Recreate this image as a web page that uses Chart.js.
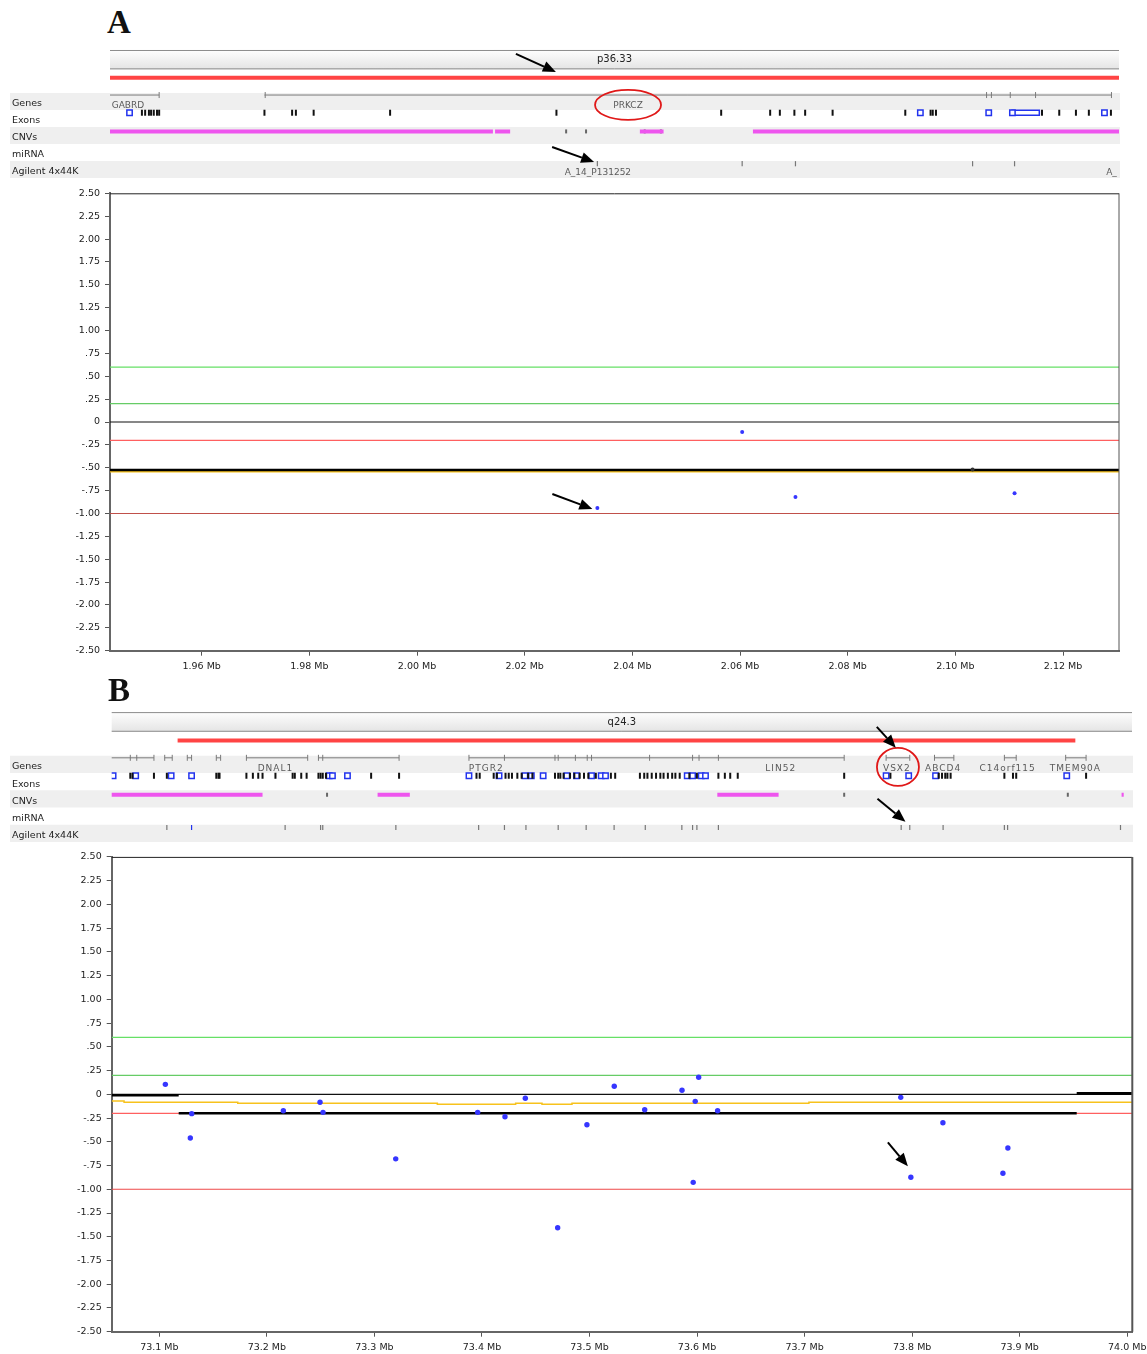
<!DOCTYPE html>
<html>
<head>
<meta charset="utf-8">
<script src="https://cdn.jsdelivr.net/npm/chart.js@4.4.1/dist/chart.umd.min.js"></script>
<style>
  body { margin: 0; background: #fff; }
  #page { position: relative; width: 1147px; height: 1354px; overflow: hidden; }
  canvas { position: absolute; left: 0; }
  .panel { position: absolute; font: bold 33px "Liberation Serif", serif; color: #111; line-height: normal; }
</style>
</head>
<body>
<div id="page">
  <div class="panel" style="left:107px;top:4px">A</div>
  <canvas id="trackA" width="1147" height="136" style="top:42px"></canvas>
  <canvas id="chartA" width="1147" height="490" style="top:185px"></canvas>
  <div class="panel" style="left:108px;top:672px">B</div>
  <canvas id="trackB" width="1147" height="138" style="top:704px"></canvas>
  <canvas id="chartB" width="1147" height="506" style="top:848px"></canvas>
</div>
<script>
const FONT = '"DejaVu Sans", Verdana, sans-serif';
const rowNames = ['Genes', 'Exons', 'CNVs', 'miRNA', 'Agilent 4x44K'];
const yTicks = [2.5, 2.25, 2, 1.75, 1.5, 1.25, 1, 0.75, 0.5, 0.25, 0, -0.25, -0.5, -0.75, -1, -1.25, -1.5, -1.75, -2, -2.25, -2.5];
const thresholds = [0.6, 0.2, 0, -0.2, -1.0];

// ---------- panel A (1p36.33, PRKCZ) ----------
const xRangeA = [1.94297, 2.1304];
const xTicksA = [1.96, 1.98, 2.00, 2.02, 2.04, 2.06, 2.08, 2.10, 2.12];
const bandA = 'p36.33';
const aberrA = [1.94297, 2.1304];
const geneStartA = [1.94297, 1.97166];
const geneEndA = [1.9521, 2.1290];
const geneCapsA = [1.9521, 1.9718, 2.1058, 2.1067, 2.1102, 2.1149, 2.1290];
const geneNamesA = ['GABRD', 'PRKCZ'];
const geneNamePosA = [1.9463, 2.0392];
const exonTicksA = [1.9489, 1.9495, 1.9502, 1.9506, 1.9511, 1.9517, 1.9521, 1.97166, 1.9768, 1.9775, 1.9808, 1.9950,
  2.0259, 2.0565, 2.0656, 2.0674, 2.0701, 2.0721, 2.0772, 2.0907, 2.0954, 2.0958, 2.0964, 2.1161, 2.1193, 2.1224, 2.1248, 2.1289];
const exonBoxesA = [1.9466, 2.0935, 2.1062, 2.1106, 2.1277];
const wideExonStartA = [2.1104];
const wideExonEndA = [2.1156];
const cnvStartA = [1.94297, 2.0145, 2.0414, 2.0624];
const cnvEndA = [2.0141, 2.0173, 2.0458, 2.1304];
const cnvMarksA = [2.0277, 2.0314, 2.0423, 2.0453];
const probesA = [2.0335, 2.0604, 2.0703, 2.1032, 2.1110];
const probeLabelsA = ['A_14_P131252', 'A_'];
const probeLabelPosA = [2.0336, 2.1290];
const ratiosA = [-0.94, -0.11, -0.82, -0.52, -0.78];
const ratioColorsA = ['#3636ff', '#3636ff', '#3636ff', '#333333', '#3636ff'];
const segStartA = [1.94297];
const segEndA = [2.1304];
const segValA = [-0.525];
const yelStartA = [1.94297];
const yelValA = [-0.545];

// ---------- panel B (14q24.3, VSX2) ----------
const xRangeB = [73.0557, 74.0047];
const xTicksB = [73.1, 73.2, 73.3, 73.4, 73.5, 73.6, 73.7, 73.8, 73.9, 74.0];
const bandB = 'q24.3';
const aberrB = [73.117, 73.952];
const geneStartB = [73.055, 73.105, 73.126, 73.153, 73.181, 73.248, 73.388, 73.776, 73.821, 73.886, 73.943];
const geneEndB = [73.095, 73.112, 73.130, 73.157, 73.238, 73.323, 73.737, 73.798, 73.839, 73.897, 73.962];
const geneCapsB = [73.073, 73.079, 73.095, 73.105, 73.112, 73.126, 73.130, 73.153, 73.157, 73.181, 73.238,
  73.248, 73.252, 73.323, 73.388, 73.421, 73.468, 73.471, 73.487, 73.498, 73.502, 73.556, 73.596, 73.602, 73.620, 73.737,
  73.776, 73.798, 73.821, 73.839, 73.886, 73.897, 73.943, 73.962];
const geneNamesB = ['DNAL1', 'PTGR2', 'LIN52', 'VSX2', 'ABCD4', 'C14orf115', 'TMEM90A'];
const geneNamePosB = [73.208, 73.404, 73.678, 73.786, 73.829, 73.889, 73.952];
const exonTicksB = [73.073, 73.075, 73.095, 73.107, 73.153, 73.155, 73.156, 73.181, 73.187, 73.192, 73.196, 73.208,
  73.224, 73.226, 73.232, 73.237, 73.248, 73.250, 73.252, 73.255, 73.297, 73.323, 73.395, 73.398, 73.411, 73.414,
  73.422, 73.425, 73.428, 73.433, 73.437, 73.443, 73.447, 73.468, 73.471, 73.473, 73.476, 73.482, 73.486, 73.491,
  73.495, 73.499, 73.506, 73.520, 73.524, 73.547, 73.551, 73.554, 73.558, 73.562, 73.566, 73.569, 73.573, 73.577,
  73.580, 73.584, 73.593, 73.600, 73.620, 73.626, 73.631, 73.638, 73.737, 73.780, 73.825, 73.828, 73.831, 73.833,
  73.836, 73.886, 73.894, 73.897, 73.962];
const exonBoxesB = [73.057, 73.078, 73.111, 73.130, 73.258, 73.261, 73.275, 73.388, 73.416, 73.440, 73.446, 73.457,
  73.479, 73.488, 73.502, 73.511, 73.515, 73.591, 73.596, 73.604, 73.608, 73.776, 73.797, 73.822, 73.944];
const wideExonStartB = [];
const wideExonEndB = [];
const cnvStartB = [73.055, 73.303, 73.619, 73.995];
const cnvEndB = [73.196, 73.333, 73.676, 73.997];
const cnvMarksB = [73.256, 73.737, 73.945];
const probesB = [73.107, 73.130, 73.217, 73.250, 73.252, 73.320, 73.397, 73.421, 73.441, 73.471, 73.497, 73.523,
  73.552, 73.586, 73.596, 73.600, 73.620, 73.790, 73.798, 73.829, 73.886, 73.889, 73.994];
const probeColorsB = probesB.map((p, i) => i === 1 ? '#2233ee' : '#777');
const probeLabelsB = [];
const probeLabelPosB = [];
const posB = [73.1056, 73.1301, 73.1288, 73.2153, 73.2494, 73.2522, 73.3198, 73.3960, 73.4214, 73.4403, 73.4704, 73.4976,
  73.5230, 73.5513, 73.5860, 73.6015, 73.5983, 73.5964, 73.6191, 73.7894, 73.7988, 73.8286, 73.8890, 73.8844];
const ratiosB = [0.105, -0.204, -0.46, -0.173, -0.084, -0.19, -0.68, -0.19, -0.236, -0.042, -1.405, -0.32,
  0.084, -0.162, 0.042, 0.179, -0.074, -0.927, -0.173, -0.032, -0.874, -0.299, -0.566, -0.832];
const segStartB = [73.0557, 73.118, 73.953];
const segEndB = [73.118, 73.953, 74.0047];
const segValB = [-0.01, -0.2, 0.01];
const yelStartB = [73.0557, 73.0672, 73.1729, 73.3585, 73.4313, 73.4558, 73.4837, 73.704];
const yelValB = [-0.07, -0.085, -0.095, -0.105, -0.095, -0.105, -0.095, -0.085];

// helpers
function segs(starts, ends, ys) {
  const out = [];
  starts.forEach((s, i) => {
    const y = Array.isArray(ys) ? ys[i] : ys;
    out.push({x: s, y: y}, {x: ends[i], y: y}, {x: ends[i], y: null});
  });
  return out;
}
function steps(starts, end, vals) {
  return starts.flatMap((s, i) => [{x: s, y: vals[i]}, {x: i + 1 < starts.length ? starts[i + 1] : end, y: vals[i]}]);
}
function at(xs, y) {
  return xs.map(x => ({x: x, y: y}));
}
function boxes(starts, ends, yc, h) {
  const out = [];
  starts.forEach((s, i) => {
    out.push({x: s, y: yc - h}, {x: ends[i], y: yc - h}, {x: ends[i], y: yc + h}, {x: s, y: yc + h}, {x: s, y: yc - h}, {x: s, y: null});
  });
  return out;
}
function fmtY(v) {
  if (v === 0) return '0';
  if (Math.abs(v) < 1) return (v < 0 ? '-' : '') + Math.abs(v).toFixed(2).slice(1);
  return v.toFixed(2);
}
function arrow(ctx, x1, y1, x2, y2) {
  const a = Math.atan2(y2 - y1, x2 - x1);
  const hl = 13, hw = 5.5;
  const bx = x2 - Math.cos(a) * hl, by = y2 - Math.sin(a) * hl;
  ctx.save();
  ctx.strokeStyle = '#000';
  ctx.fillStyle = '#000';
  ctx.lineWidth = 2;
  ctx.beginPath();
  ctx.moveTo(x1, y1);
  ctx.lineTo(bx, by);
  ctx.stroke();
  ctx.beginPath();
  ctx.moveTo(x2, y2);
  ctx.lineTo(bx + Math.sin(a) * hw, by - Math.cos(a) * hw);
  ctx.lineTo(bx - Math.sin(a) * hw, by + Math.cos(a) * hw);
  ctx.closePath();
  ctx.fill();
  ctx.restore();
}

function trackChart(id, d) {
  const deco = {
    id: 'deco',
    beforeDraw(chart) {
      const c = chart.ctx, xs = chart.scales.x, ys = chart.scales.y, area = chart.chartArea;
      c.save();
      [0, 2, 4].forEach(r => {
        const t = ys.getPixelForValue(r - 0.5), b = ys.getPixelForValue(r + 0.5);
        c.fillStyle = '#efefef';
        c.fillRect(10, t, area.right + 1 - 10, b - t);
      });
      const l = xs.getPixelForValue(xs.min), r = xs.getPixelForValue(xs.max);
      const t = ys.getPixelForValue(-3.03), b = ys.getPixelForValue(-1.89);
      const g = c.createLinearGradient(0, t, 0, b);
      g.addColorStop(0, '#fefefe');
      g.addColorStop(1, '#e4e4e4');
      c.fillStyle = g;
      c.fillRect(l, t, r - l, b - t);
      c.strokeStyle = '#8c8c8c';
      c.lineWidth = 1;
      c.beginPath();
      c.moveTo(l, t + 0.5); c.lineTo(r, t + 0.5);
      c.moveTo(l, b - 0.5); c.lineTo(r, b - 0.5);
      c.stroke();
      c.fillStyle = '#222';
      c.font = '10px ' + FONT;
      c.textAlign = 'center';
      c.textBaseline = 'middle';
      c.fillText(d.band, (l + r) / 2, (t + b) / 2);
      c.restore();
    },
    afterDatasetsDraw(chart) {
      const c = chart.ctx, xs = chart.scales.x, ys = chart.scales.y, area = chart.chartArea;
      c.save();
      c.beginPath();
      c.rect(area.left - 2, 0, area.right - area.left + 2, chart.height);
      c.clip();
      c.font = '9px ' + FONT;
      c.fillStyle = '#5a5a5a';
      c.textBaseline = 'middle';
      c.textAlign = 'center';
      c.letterSpacing = d.spacing;
      d.geneNames.forEach((n, i) => {
        c.fillText(n, xs.getPixelForValue(d.geneNamePos[i]), ys.getPixelForValue(0.24));
      });
      c.letterSpacing = '0px';
      d.probeLabels.forEach((n, i) => {
        c.fillText(n, xs.getPixelForValue(d.probeLabelPos[i]), ys.getPixelForValue(4.18));
      });
      c.restore();
      c.save();
      c.strokeStyle = '#e01818';
      c.lineWidth = 1.8;
      c.beginPath();
      c.ellipse(xs.getPixelForValue(d.ring.x), ys.getPixelForValue(d.ring.y), d.ring.rx, d.ring.ry, 0, 0, Math.PI * 2);
      c.stroke();
      c.restore();
      d.arrows.forEach(a => {
        const x2 = xs.getPixelForValue(a.x), y2 = ys.getPixelForValue(a.y);
        arrow(c, x2 + a.dx, y2 + a.dy, x2, y2);
      });
    }
  };
  return new Chart(document.getElementById(id), {
    type: 'scatter',
    data: {
      datasets: [
        { data: segs([d.aberr[0]], [d.aberr[1]], -1.39), showLine: true, borderColor: '#ff4444', borderWidth: 4, pointRadius: 0 },
        { data: segs(d.geneS, d.geneE, -0.38), showLine: true, borderColor: '#7a7a7a', borderWidth: 1, pointRadius: 0 },
        { data: at(d.geneCaps, -0.38), pointStyle: 'line', pointRotation: 90, pointRadius: 3, pointBorderColor: '#7a7a7a', pointBorderWidth: 1 },
        { data: at(d.exonTicks, 0.66), pointStyle: 'line', pointRotation: 90, pointRadius: 3, pointBorderColor: '#111', pointBorderWidth: 2 },
        { data: at(d.exonBoxes, 0.66), pointStyle: 'rect', pointRadius: 3.8, pointBorderColor: '#2233ee', pointBackgroundColor: '#fff', pointBorderWidth: 1.5 },
        { data: boxes(d.wideS, d.wideE, 0.66, 0.15), showLine: true, borderColor: '#2233ee', borderWidth: 1.5, pointRadius: 0 },
        { data: segs(d.cnvS, d.cnvE, 1.76), showLine: true, borderColor: '#ee55ee', borderWidth: 4, pointRadius: 0 },
        { data: at(d.cnvMarks, 1.76), pointStyle: 'line', pointRotation: 90, pointRadius: 2, pointBorderColor: '#666', pointBorderWidth: 2 },
        { data: at(d.probes, 3.66), pointStyle: 'line', pointRotation: 90, pointRadius: 2.6, pointBorderColor: d.probeColors, pointBorderWidth: 1.2 }
      ]
    },
    options: {
      responsive: false,
      animation: false,
      events: [],
      devicePixelRatio: 1,
      layout: { autoPadding: false, padding: { left: 12, right: d.padRight, top: 0, bottom: 0 } },
      plugins: { legend: { display: false }, tooltip: { enabled: false } },
      scales: {
        x: { type: 'linear', display: false, min: d.xRange[0], max: d.xRange[1] },
        y: {
          type: 'linear', min: -3.5, max: 4.5, reverse: true,
          afterBuildTicks: s => { s.ticks = rowNames.map((n, i) => ({value: i})); },
          afterFit: s => { s.width = d.axisW; s.paddingTop = 0; s.paddingBottom = 0; },
          ticks: { callback: v => rowNames[v], crossAlign: 'far', labelOffset: 2.5, autoSkip: false, color: '#222', font: { family: FONT, size: 9.5 } },
          grid: { display: false },
          border: { display: false }
        }
      }
    },
    plugins: [deco]
  });
}

function mainChart(id, d) {
  const [x0, x1] = d.xRange;
  const thrColors = ['#66e066', '#66cc66', '#111111', '#ff6060', d.lowColor];
  const frame = {
    id: 'frame',
    afterDraw(chart) {
      const c = chart.ctx, a = chart.chartArea;
      c.save();
      c.strokeStyle = '#222';
      c.lineWidth = 1;
      c.beginPath();
      c.moveTo(a.left, a.top + 0.5);
      c.lineTo(a.right, a.top + 0.5);
      c.stroke();
      c.strokeStyle = '#555';
      c.lineWidth = d.rightW;
      c.beginPath();
      c.moveTo(a.right, a.top);
      c.lineTo(a.right, a.bottom);
      c.stroke();
      c.restore();
      const p = d.arrow;
      const x2 = chart.scales.x.getPixelForValue(p.x) + p.ox, y2 = chart.scales.y.getPixelForValue(p.y) + p.oy;
      arrow(c, x2 + p.dx, y2 + p.dy, x2, y2);
    }
  };
  return new Chart(document.getElementById(id), {
    type: 'scatter',
    data: {
      datasets: [
        { data: d.px.map((x, i) => ({x: x, y: d.py[i]})), pointRadius: d.r, pointBackgroundColor: d.pc, pointBorderWidth: 0 },
        { data: segs(d.segS, d.segE, d.segV), showLine: true, borderColor: '#000', borderWidth: 2.6, pointRadius: 0 },
        { data: steps(d.yelS, x1, d.yelV), showLine: true, borderColor: '#f7c21c', borderWidth: 1.5, pointRadius: 0 },
        ...thresholds.map((v, i) => ({ data: [{x: x0, y: v}, {x: x1, y: v}], showLine: true, borderColor: thrColors[i], borderWidth: 1.2, pointRadius: 0 }))
      ]
    },
    options: {
      responsive: false,
      animation: false,
      events: [],
      devicePixelRatio: 1,
      layout: { padding: { left: 0, right: d.padRight, top: d.padTop, bottom: 0 } },
      plugins: { legend: { display: false }, tooltip: { enabled: false } },
      scales: {
        x: {
          type: 'linear', min: x0, max: x1,
          afterBuildTicks: s => { s.ticks = d.xTicks.map(v => ({value: v})); },
          afterFit: s => { s.height = d.xAxisH; s.paddingLeft = 0; s.paddingRight = 0; },
          ticks: { callback: d.xFmt, autoSkip: false, maxRotation: 0, padding: 5, color: '#222', font: { family: FONT, size: 9.5 } },
          grid: { drawOnChartArea: false, tickLength: 5, color: '#555' },
          border: { color: '#666', width: 2 }
        },
        y: {
          type: 'linear', min: -2.5, max: 2.5,
          afterBuildTicks: s => { s.ticks = yTicks.map(v => ({value: v})); },
          afterFit: s => { s.width = d.yAxisW; s.paddingTop = 0; s.paddingBottom = 0; },
          ticks: { callback: fmtY, autoSkip: false, padding: 5, color: '#222', font: { family: FONT, size: 9.5 } },
          grid: { drawOnChartArea: false, tickLength: 5, color: '#555' },
          border: { color: '#666', width: 2 }
        }
      }
    },
    plugins: [frame]
  });
}

trackChart('trackA', {
  xRange: xRangeA, band: bandA, aberr: aberrA, geneS: geneStartA, geneE: geneEndA, geneCaps: geneCapsA,
  geneNames: geneNamesA, geneNamePos: geneNamePosA, spacing: '0px', exonTicks: exonTicksA, exonBoxes: exonBoxesA,
  wideS: wideExonStartA, wideE: wideExonEndA, cnvS: cnvStartA, cnvE: cnvEndA, cnvMarks: cnvMarksA,
  probes: probesA, probeColors: '#777', probeLabels: probeLabelsA, probeLabelPos: probeLabelPosA,
  padRight: 28, axisW: 98,
  ring: { x: 2.0392, y: 0.2, rx: 33, ry: 15 },
  arrows: [{ x: 2.0258, y: -1.74, dx: -40, dy: -18 }, { x: 2.0329, y: 3.56, dx: -42, dy: -15 }]
});

trackChart('trackB', {
  xRange: xRangeB, band: bandB, aberr: aberrB, geneS: geneStartB, geneE: geneEndB, geneCaps: geneCapsB,
  geneNames: geneNamesB, geneNamePos: geneNamePosB, spacing: '1px', exonTicks: exonTicksB, exonBoxes: exonBoxesB,
  wideS: wideExonStartB, wideE: wideExonEndB, cnvS: cnvStartB, cnvE: cnvEndB, cnvMarks: cnvMarksB,
  probes: probesB, probeColors: probeColorsB, probeLabels: probeLabelsB, probeLabelPos: probeLabelPosB,
  padRight: 15, axisW: 99.7,
  ring: { x: 73.787, y: 0.15, rx: 21, ry: 19 },
  arrows: [{ x: 73.785, y: -0.96, dx: -19, dy: -21 }, { x: 73.794, y: 3.33, dx: -28, dy: -23 }]
});

mainChart('chartA', {
  xRange: xRangeA, xTicks: xTicksA, xFmt: v => v.toFixed(2) + ' Mb',
  px: probesA, py: ratiosA, pc: ratioColorsA, r: 2,
  segS: segStartA, segE: segEndA, segV: segValA, yelS: yelStartA, yelV: yelValA,
  lowColor: '#c0504a', padRight: 28, padTop: 8.3, xAxisH: 24.3, yAxisW: 110, rightW: 1,
  arrow: { x: probesA[0], y: ratiosA[0], ox: -5, oy: 1, dx: -40, dy: -15 }
});

mainChart('chartB', {
  xRange: xRangeB, xTicks: xTicksB, xFmt: v => v.toFixed(1) + ' Mb',
  px: posB, py: ratiosB, pc: '#3636ff', r: 2.7,
  segS: segStartB, segE: segEndB, segV: segValB, yelS: yelStartB, yelV: yelValB,
  lowColor: '#ee4848', padRight: 14.7, padTop: 8.9, xAxisH: 22.3, yAxisW: 111.7, rightW: 2,
  arrow: { x: posB[20], y: ratiosB[20], ox: -3, oy: -11, dx: -20, dy: -24 }
});
</script>
</body>
</html>
